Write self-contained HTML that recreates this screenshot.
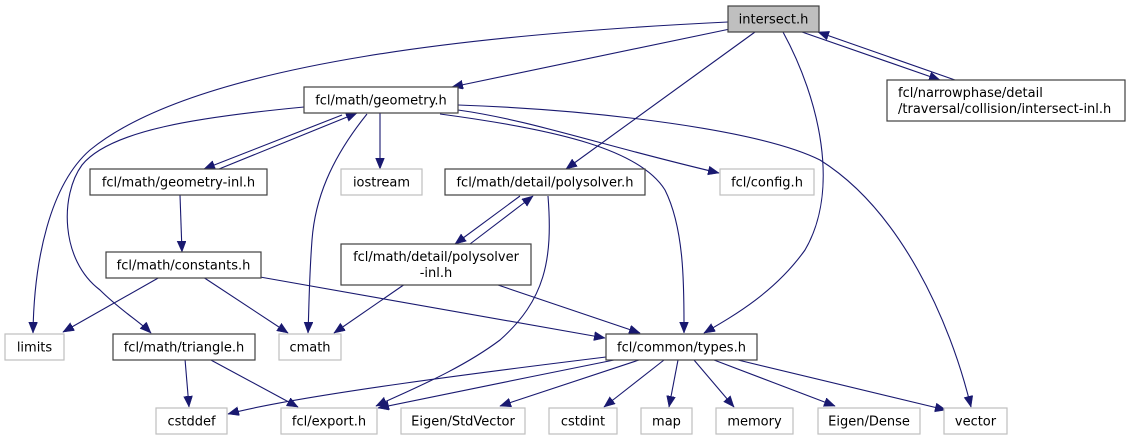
<!DOCTYPE html>
<html><head><meta charset="utf-8"><style>
html,body{margin:0;padding:0;background:#fff;}
svg{display:block;}
text{font-family:"DejaVu Sans","Liberation Sans",sans-serif;font-size:13px;fill:#000;text-anchor:middle;}
.n{fill:#fff;stroke:#404040;stroke-width:1.2;}
.g{fill:#fff;stroke:#bfbfbf;stroke-width:1.2;}
.e{fill:none;stroke:#191970;stroke-width:1.1;}
</style></head><body>
<svg width="1129" height="440" viewBox="0 0 1129 440" xmlns="http://www.w3.org/2000/svg">
<defs>
<marker id="a" markerUnits="userSpaceOnUse" markerWidth="12" markerHeight="10" refX="11" refY="4.5" orient="auto">
<path d="M0,0 L11,4.5 L0,9 Z" fill="#191970" stroke="#191970" stroke-width="0.5"/>
</marker>
</defs>
<g class="e" marker-end="url(#a)">
<path d="M728,22 C 500,33 200,60 90,150 C 50,185 34,260 33,333"/>
<path d="M730,29 L 452,87"/>
<path d="M755,32 L 566,169"/>
<path d="M783,32 C 820,100 840,190 805,250 C 775,292 735,315 704,333"/>
<path d="M802,32 L 940,80"/>
<path d="M955,80 L 818,32"/>
<path d="M342,115 L 204,169"/>
<path d="M219,169 L 357,113"/>
<path d="M380,113 L 380,169"/>
<path d="M304,107 C 200,117 110,130 82,165 C 60,195 60,260 100,290 C 120,310 140,322 151,333"/>
<path d="M367,114 C 330,160 315,200 312,240 C 309,280 309,310 308,333"/>
<path d="M440,114 C 560,130 640,150 665,190 C 685,230 684,290 684,333"/>
<path d="M458,110 C 530,120 600,145 719,173"/>
<path d="M458,105 C 600,110 760,130 820,160 C 900,210 950,320 971,407"/>
<path d="M180,195 L 182,252"/>
<path d="M520,196 L 455,244"/>
<path d="M470,244 L 533,196"/>
<path d="M548,196 C 553,260 545,300 500,340 C 460,370 410,390 376,406"/>
<path d="M160,277 L 63,332"/>
<path d="M203,277 L 288,333"/>
<path d="M260,277 L 605,338"/>
<path d="M405,284 L 334,333"/>
<path d="M495,284 L 640,333"/>
<path d="M185,359 L 189,407"/>
<path d="M209,359 L 298,407"/>
<path d="M606,357 C 500,370 300,395 228,414"/>
<path d="M619,359 C 540,375 440,395 378,408"/>
<path d="M642,359 L 500,406"/>
<path d="M664,360 L 604,407"/>
<path d="M678,360 L 669,407"/>
<path d="M694,360 L 734,407"/>
<path d="M714,360 L 835,406"/>
<path d="M738,360 L 946,410"/>
</g>
<rect x="728" y="6" width="91" height="26" fill="#bfbfbf" stroke="#404040" stroke-width="1.2"/>
<text x="773.5" y="23.5">intersect.h</text>
<rect class="n" x="887" y="80" width="238" height="41"/>
<text x="898" y="97" style="text-anchor:start">fcl/narrowphase/detail</text>
<text x="898" y="113" style="text-anchor:start">/traversal/collision/intersect-inl.h</text>
<rect class="n" x="304" y="87" width="154" height="26"/>
<text x="381" y="104.5">fcl/math/geometry.h</text>
<rect class="n" x="90" y="169" width="177" height="26"/>
<text x="178.5" y="186.5">fcl/math/geometry-inl.h</text>
<rect class="g" x="341" y="169" width="81" height="26"/>
<text x="381.5" y="186.5">iostream</text>
<rect class="n" x="445" y="169" width="200" height="26"/>
<text x="545" y="186.5">fcl/math/detail/polysolver.h</text>
<rect class="g" x="720" y="169" width="94" height="26"/>
<text x="767" y="186.5">fcl/config.h</text>
<rect class="n" x="106" y="252" width="155" height="26"/>
<text x="183.5" y="269.5">fcl/math/constants.h</text>
<rect class="n" x="341" y="244" width="190" height="41"/>
<text x="436" y="261">fcl/math/detail/polysolver</text>
<text x="436" y="277">-inl.h</text>
<rect class="g" x="5" y="334" width="59" height="26"/>
<text x="34.5" y="351.5">limits</text>
<rect class="n" x="113" y="334" width="142" height="26"/>
<text x="184" y="351.5">fcl/math/triangle.h</text>
<rect class="g" x="279" y="334" width="62" height="26"/>
<text x="310" y="351.5">cmath</text>
<rect class="n" x="606" y="334" width="151" height="26"/>
<text x="681.5" y="351.5">fcl/common/types.h</text>
<rect class="g" x="156" y="408" width="71" height="26"/>
<text x="191.5" y="425.5">cstddef</text>
<rect class="g" x="281" y="408" width="96" height="26"/>
<text x="329" y="425.5">fcl/export.h</text>
<rect class="g" x="401" y="408" width="124" height="26"/>
<text x="463" y="425.5">Eigen/StdVector</text>
<rect class="g" x="549" y="408" width="68" height="26"/>
<text x="583" y="425.5">cstdint</text>
<rect class="g" x="641" y="408" width="51" height="26"/>
<text x="666.5" y="425.5">map</text>
<rect class="g" x="716" y="408" width="77" height="26"/>
<text x="754.5" y="425.5">memory</text>
<rect class="g" x="818" y="408" width="102" height="26"/>
<text x="869" y="425.5">Eigen/Dense</text>
<rect class="g" x="944" y="408" width="63" height="26"/>
<text x="975.5" y="425.5">vector</text>
</svg>
</body></html>
